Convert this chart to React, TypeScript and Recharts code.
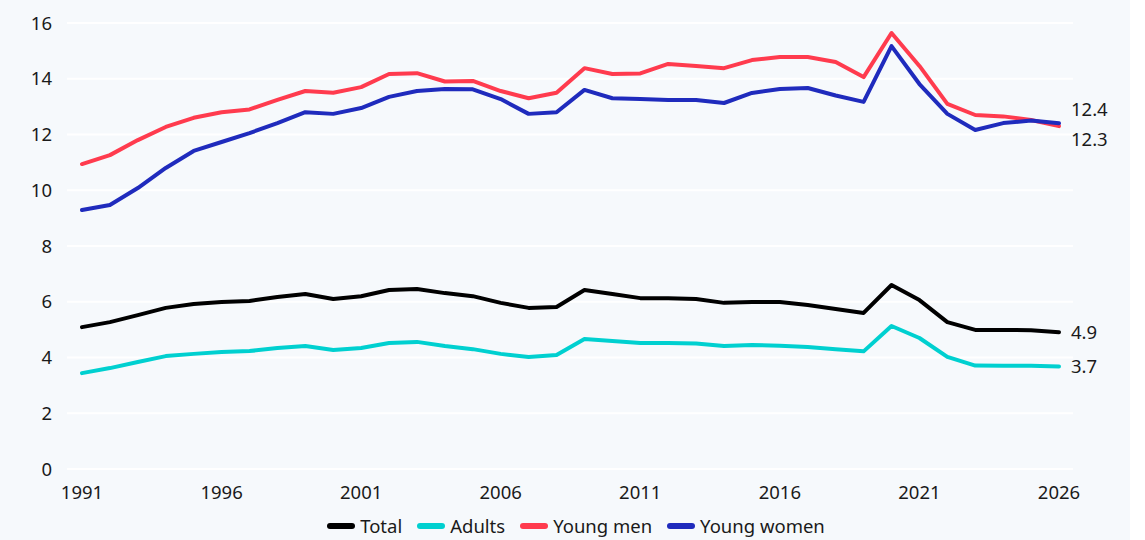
import React from "react";
import { LineChart, Line, XAxis, YAxis, CartesianGrid, Legend, LabelList } from "recharts";

const years = [
  1991, 1992, 1993, 1994, 1995, 1996, 1997, 1998, 1999, 2000, 2001, 2002, 2003, 2004, 2005, 2006, 2007, 2008,
  2009, 2010, 2011, 2012, 2013, 2014, 2015, 2016, 2017, 2018, 2019, 2020, 2021, 2022, 2023, 2024, 2025, 2026,
];
const total = [
  5.09, 5.27, 5.52, 5.78, 5.92, 5.99, 6.03, 6.17, 6.28, 6.1, 6.2, 6.42, 6.46, 6.31, 6.2, 5.96, 5.78, 5.81,
  6.42, 6.28, 6.13, 6.13, 6.1, 5.96, 5.99, 5.99, 5.88, 5.74, 5.6, 6.6, 6.06, 5.27, 4.99, 4.99, 4.98, 4.91,
];
const adults = [
  3.44, 3.62, 3.84, 4.05, 4.13, 4.2, 4.23, 4.34, 4.41, 4.27, 4.34, 4.52, 4.56, 4.41, 4.3, 4.13, 4.02, 4.09,
  4.66, 4.59, 4.52, 4.52, 4.5, 4.41, 4.45, 4.42, 4.38, 4.3, 4.22, 5.13, 4.7, 4.02, 3.71, 3.7, 3.7, 3.68,
];
const youngMen = [
  10.94, 11.26, 11.8, 12.27, 12.6, 12.8, 12.9, 13.24, 13.56, 13.5, 13.7, 14.17, 14.2, 13.9, 13.92, 13.56, 13.3, 13.5,
  14.38, 14.17, 14.19, 14.53, 14.46, 14.38, 14.67, 14.78, 14.78, 14.6, 14.06, 15.64, 14.46, 13.1, 12.7, 12.65, 12.52, 12.3,
];
const youngWomen = [
  9.29, 9.47, 10.08, 10.8, 11.41, 11.73, 12.05, 12.41, 12.8, 12.74, 12.95, 13.35, 13.56, 13.63, 13.62, 13.27, 12.74, 12.8,
  13.6, 13.3, 13.27, 13.24, 13.24, 13.13, 13.49, 13.63, 13.67, 13.4, 13.17, 15.17, 13.81, 12.74, 12.16, 12.41, 12.5, 12.4,
];
const xTicks = [1991, 1996, 2001, 2006, 2011, 2016, 2021, 2026];
const yTicks = [0, 2, 4, 6, 8, 10, 12, 14, 16];

const series = [
  { key: "total", name: "Total", color: "#000000", values: total, dy: 0 },
  { key: "adults", name: "Adults", color: "#00d0d0", values: adults, dy: 0 },
  { key: "youngMen", name: "Young men", color: "#ff3b4e", values: youngMen, dy: 13 },
  { key: "youngWomen", name: "Young women", color: "#1f2bbd", values: youngWomen, dy: -14 },
];

const data = years.map((year, i) => {
  const row: any = { year };
  series.forEach((s) => (row[s.key] = s.values[i]));
  return row;
});

const font = "'Noto Sans', sans-serif";
const last = years.length - 1;

const endLabel = (dy: number) => (props: any) => {
  if (props.index !== last) return null;
  return (
    <text x={props.x + 12} y={props.y + dy} dy="0.35em" fill="#1a1a1a" fontSize={18.5} fontFamily={font}>
      {Number(props.value).toFixed(1)}
    </text>
  );
};

const LegendContent = () => (
  <div style={{ display: "flex", justifyContent: "center", gap: 15, fontFamily: font, fontSize: 18.5, color: "#1a1a1a" }}>
    {series.map((s) => (
      <div key={s.key} style={{ display: "flex", alignItems: "center", gap: 5 }}>
        <svg width={28} height={8}>
          <line x1={3} y1={4} x2={25} y2={4} stroke={s.color} strokeWidth={6} strokeLinecap="round" />
        </svg>
        <span>{s.name}</span>
      </div>
    ))}
  </div>
);

export default function App() {
  return (
    <div style={{ position: "fixed", left: 0, top: 0, width: 1130, height: 540, background: "#f6f9fc" }}>
      <LineChart width={1130} height={540} data={data} margin={{ top: 23, right: 57, bottom: 2, left: 0 }}>
        <CartesianGrid vertical={false} stroke="#ffffff" strokeWidth={2} />
        <XAxis
          dataKey="year"
          type="number"
          domain={[1991, 2026]}
          ticks={xTicks}
          padding={{ left: 15, right: 14 }}
          axisLine={false}
          tickLine={false}
          tickMargin={11}
          height={44}
          tick={{ fill: "#1a1a1a", fontSize: 18.5, fontFamily: font }}
        />
        <YAxis
          domain={[0, 16]}
          ticks={yTicks}
          axisLine={false}
          tickLine={false}
          tickMargin={9}
          width={67}
          tick={{ fill: "#1a1a1a", fontSize: 18.5, fontFamily: font }}
        />
        <Legend verticalAlign="bottom" content={<LegendContent />} wrapperStyle={{ left: 67, width: 1018 }} />
        {series.map((s) => (
          <Line
            key={s.key}
            dataKey={s.key}
            name={s.name}
            stroke={s.color}
            strokeWidth={4}
            dot={false}
            strokeLinecap="round"
            strokeLinejoin="round"
            isAnimationActive={false}
          >
            <LabelList dataKey={s.key} content={endLabel(s.dy)} />
          </Line>
        ))}
      </LineChart>
    </div>
  );
}
